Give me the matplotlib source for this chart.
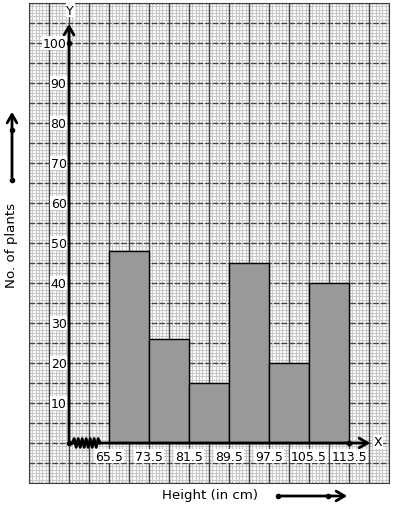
import numpy as np
import matplotlib
matplotlib.use('Agg')
import matplotlib.pyplot as plt

# data
edges = [65.5, 73.5, 81.5, 89.5, 97.5, 105.5, 113.5]
plants = [48, 26, 15, 45, 20, 40]
y_ticks = [10, 20, 30, 40, 50, 60, 70, 80, 90, 100]

# each class takes two big squares, first edge after the kink
def pos(v):
    return 1 + (v - edges[0]) / 8.0

fig = plt.figure(figsize=(3.94, 5.10), dpi=100)
ax = fig.add_axes([29/394, 26/510, 360/394, 480/510])
ax.set_xlim(-1, 8)
ax.set_ylim(-10, 110)

# graph paper
for v in np.arange(-1, 8.001, 0.5/6):
    ax.axvline(v, color='#c8c8c8', lw=0.8, zorder=0)
for v in np.arange(-10, 110.001, 5/6):
    ax.axhline(v, color='#c8c8c8', lw=0.8, zorder=0)
for v in np.arange(-1, 8.001, 0.5):
    ax.axvline(v, color='#444444', lw=1, zorder=1)
for v in np.arange(-10, 110.001, 5):
    ax.axhline(v, color='#444444', lw=1, ls=(0, (4, 1.5)), zorder=1)
for s in ax.spines.values():
    s.set_color('#404040')
ax.set_xticks([])
ax.set_yticks([])

# histogram
left = [pos(e) for e in edges[:-1]]
ax.bar(left, plants, width=1, align='edge', color='#999999',
       edgecolor='black', lw=1, zorder=3)

# axes with arrows
arr = dict(arrowstyle='->,head_width=0.35,head_length=0.6', lw=2, color='black')
ax.annotate('', xy=(0, 105.5), xytext=(0, 0), zorder=4, arrowprops=arr)
ax.annotate('', xy=(7.6, 0), xytext=(0, 0), zorder=4, arrowprops=arr)
zx = np.linspace(0.08, 0.78, 15)
zy = np.array([0 if i in (0, 14) else (1.1 if i % 2 else -1.1) for i in range(15)])
ax.plot(zx, zy, color='black', lw=2, zorder=5)
ax.plot([0, 0, pos(edges[-1])], [0, 100, 0], 'o', color='black', ms=3, zorder=6)

bb = dict(facecolor='white', edgecolor='none', pad=0.5)
for t in y_ticks:
    ax.text(-0.06, t, str(t), ha='right', va='center', fontsize=9, bbox=bb, zorder=4)
for e in edges:
    ax.text(pos(e), -3.3, str(e), ha='center', va='center', fontsize=9, bbox=bb, zorder=4)
ax.text(0.03, 108.2, 'Y', ha='center', va='center', fontsize=9, bbox=bb, zorder=4)
ax.text(7.72, 0.3, 'X', ha='center', va='center', fontsize=9, bbox=bb, zorder=4)

# outside labels and direction arrows
ov = fig.add_axes([0, 0, 1, 1])
ov.set_xlim(0, 394)
ov.set_ylim(510, 0)
ov.axis('off')
ov.patch.set_alpha(0)
fig.text(12/394, 1 - 245/510, 'No. of plants', rotation=90, ha='center', va='center', fontsize=9.6)
fig.text(210/394, 1 - 496/510, 'Height (in cm)', ha='center', va='center', fontsize=9.6)
ov.annotate('', xy=(12, 110), xytext=(12, 181), arrowprops=arr)
ov.plot([12, 12], [181, 131], 'o', color='black', ms=3)
ov.annotate('', xy=(350, 497), xytext=(278, 497), arrowprops=arr)
ov.plot([278, 328], [497, 497], 'o', color='black', ms=3)

fig.savefig('out.png', dpi=100)
